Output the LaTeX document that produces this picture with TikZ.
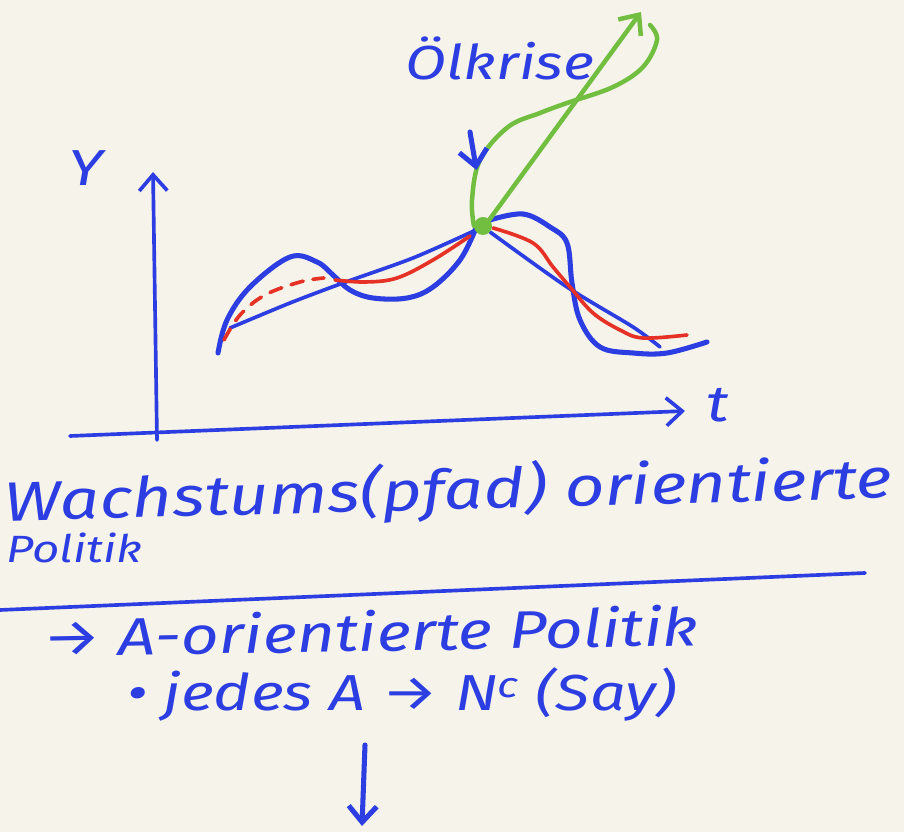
\documentclass[tikz,border=0pt]{standalone}
\usepackage{fontspec}
\setmainfont{Fira Sans}[FakeStretch=1.25]
\usepackage{tikz}
\usetikzlibrary{arrows.meta}
\definecolor{paper}{RGB}{246,244,234}
\definecolor{ink}{RGB}{44,62,226}
\definecolor{redink}{RGB}{230,50,38}
\definecolor{greenink}{RGB}{114,190,64}
\tikzset{
  pen/.style={draw=ink, line width=3.6pt, line cap=round, line join=round},
  thinpen/.style={draw=ink, line width=2.6pt, line cap=round, line join=round},
  redpen/.style={draw=redink, line width=2.6pt, line cap=round, line join=round},
  greenpen/.style={draw=greenink, line width=3.2pt, line cap=round, line join=round},
  barb/.style={-{Straight Barb[length=4mm,width=7mm]}},
  hand/.style={text=ink, font=\fontsize{36}{40}\selectfont\itshape, inner sep=0pt},
}
\begin{document}
\begin{tikzpicture}[x=0.025cm, y=-0.025cm]
\fill[paper] (0,0) rectangle (904,832);
\useasboundingbox (0,0) rectangle (904,832);
% axes
\coordinate (yorig) at (157,440);
\coordinate (ytop) at (153,172);
\coordinate (tstart) at (70,436);
\coordinate (tend) at (685,411);
\draw[thinpen, barb] (yorig) -- (ytop);
\draw[thinpen, barb] (tstart) -- (tend);
\node[hand] (ylabel) at (86,168) {Y};
\node[hand] (tlabel) at (718,405) {t};
% curves
\draw[pen] plot[smooth, tension=0.6] coordinates {(218,353) (227,320) (250,287) (290,257) (317,262) (333,275) (350,290) (373,298) (407,298) (433,287) (460,260) (476,228)};
\draw[pen] plot[smooth, tension=0.6] coordinates {(490,220) (523,214) (550,227) (567,243) (572,283) (580,320) (600,347) (633,353) (667,353) (707,342)};
\draw[thinpen] plot[smooth, tension=0.5] coordinates {(230,328) (290,303) (343,283) (413,258) (476,230)};
\draw[thinpen] plot[smooth, tension=0.5] coordinates {(490,232) (567,287) (633,327) (660,347)};
\draw[redpen, dashed, dash pattern=on 9pt off 7pt] plot[smooth, tension=0.6] coordinates {(224,340) (240,315) (265,295) (300,282) (324,278)};
\draw[redpen] plot[smooth, tension=0.6] coordinates {(335,280) (365,282) (397,278) (433,260) (470,236)};
\draw[redpen] plot[smooth, tension=0.6] coordinates {(493,228) (533,243) (553,267) (570,287) (593,313) (620,330) (643,338) (687,335)};
% oil crisis
\node[circle, fill=greenink, minimum size=0.45cm, inner sep=0pt] (shock) at (483,226) {};
\draw[greenpen] plot[smooth, tension=0.6] coordinates {(474,226) (472,200) (480,160) (508,127) (540,113) (567,103) (613,87) (643,67) (657,40) (650,25)};
\coordinate (shocktip) at (641,12);
\draw[greenpen, barb] (shock.north east) -- (shocktip);
\node[hand, font=\fontsize{34}{38}\selectfont\itshape] (oil) at (500,58) {Ölkrise};
\coordinate (hintstart) at (470,132);
\draw[pen, barb] (hintstart) -- (shock.north west |- 0,170);
% text below
\node[hand, font=\fontsize{39.5}{44}\selectfont\itshape, rotate=1.5] (growth) at (448,492) {Wachstums(pfad) orientierte};
\node[hand, font=\fontsize{27}{30}\selectfont\itshape, anchor=west] (politics) at (6,548) {Politik};
\coordinate (sepl) at (0,610);
\coordinate (sepr) at (865,573);
\draw[thinpen] (sepl) -- (sepr);
\node[hand, font=\fontsize{37.5}{40}\selectfont\itshape, rotate=1] (supply) at (370,631) {→ A-orientierte Politik};
\node[hand] (say) at (402,694) {\textbullet\ jedes A → N\textsuperscript{c} (Say)};
\coordinate (downa) at (365,745);
\coordinate (downb) at (362,826);
\draw[pen, barb] (downa) -- (downb);
\end{tikzpicture}
\end{document}
